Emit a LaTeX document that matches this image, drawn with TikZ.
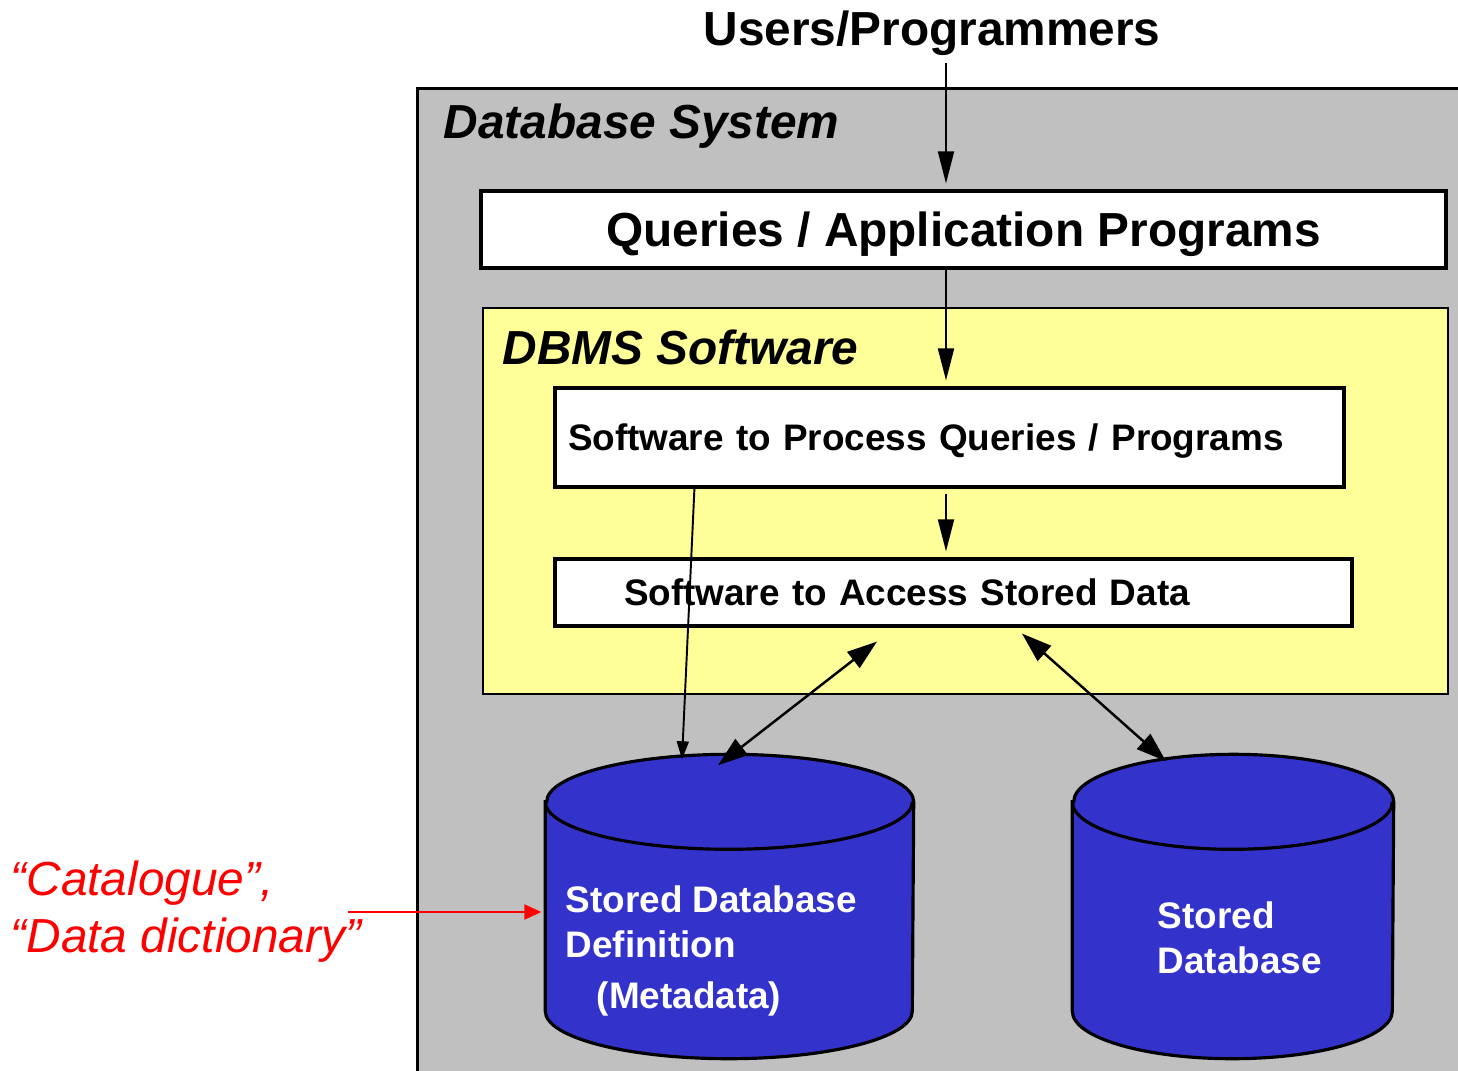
\documentclass[tikz,border=0pt]{standalone}
\usepackage{fontspec}
\setmainfont{Liberation Sans}
\usetikzlibrary{positioning,arrows.meta,calc}
\definecolor{sysgray}{RGB}{192,192,192}
\definecolor{dbmsyellow}{RGB}{255,255,153}
\definecolor{dbblue}{RGB}{51,51,204}
\definecolor{notered}{RGB}{255,0,0}

\begin{document}
\begin{tikzpicture}[
      panel/.style={draw=black, line width=0.8pt, inner sep=0pt},
      box/.style={draw=black, line width=0.9pt, fill=white, inner sep=0pt, text depth=0pt},
      big/.style={font=\fontsize{13.6}{16}\selectfont\bfseries},
      mid/.style={font=\fontsize{10.5}{12.8}\selectfont\bfseries},
      title/.style={font=\fontsize{13.6}{16}\selectfont\bfseries\itshape, anchor=base west, inner sep=0pt},
      dbframe/.style={minimum height=3.03cm, inner sep=0pt},
      dbshape/.style={draw=black, line width=0.9pt, fill=dbblue},
      dbtext/.style={mid, text=white, align=left, anchor=base west, inner sep=0pt},
      arrow/.style={-{Triangle[length=3.2mm, width=1.6mm]}, line width=0.55pt},
      link/.style={{Triangle[length=3mm, width=2mm]}-{Triangle[length=3mm, width=2mm]}, line width=0.7pt}
    ]
    \useasboundingbox (0,0) rectangle (14.58,10.70);

    % outer frame, cut off by the right and bottom edges
    \node[panel, fill=sysgray, anchor=north west, minimum width=10.5cm, minimum height=9.95cm] (sys) at (4.16,9.83) {};
    \node[title] (systitle) at (4.43,9.31) {Database System};
    \node[big, anchor=base, inner sep=0pt] (users) at (9.32,10.24) {Users/Programmers};

    \node[box, big, minimum width=9.65cm, minimum height=0.77cm] (qa) at (9.635,8.405) {Queries / Application Programs};

    % DBMS block
    \node[panel, fill=dbmsyellow, minimum width=9.65cm, minimum height=3.86cm] (dbms) at (9.655,5.69) {};
    \node[title] (dbmstitle) at (5.02,7.06) {DBMS Software};
    \node[box, mid, inner xsep=0.13cm, text width=7.63cm, align=left, minimum height=0.99cm] (proc) at (9.495,6.325)
      {Software to Process Queries / Programs};
    \node[box, mid, inner xsep=0.69cm, text width=6.59cm, align=left, minimum height=0.67cm] (access) at (9.535,4.775)
      {Software to Access Stored Data};

    % the two stores: frame nodes, then the drums drawn over them
    \node[dbframe, minimum width=3.67cm] (meta) at (7.295,1.635) {};
    \node[dbframe, minimum width=3.20cm] (store) at (12.33,1.635) {};
    \foreach \db/\rx in {meta/1.835, store/1.60} {
      \draw[dbshape] ([yshift=-0.475cm]\db.north west) -- ([yshift=0.475cm]\db.south west)
        arc[start angle=180, end angle=360, x radius=\rx cm, y radius=0.475cm]
        -- ([yshift=-0.475cm]\db.north east)
        arc[start angle=0, end angle=180, x radius=\rx cm, y radius=0.475cm] -- cycle;
      \draw[dbshape, fill=none] ([yshift=-0.475cm]\db.north west)
        arc[start angle=180, end angle=360, x radius=\rx cm, y radius=0.475cm];
    }
    \node[dbtext] (metatxt) at (5.65,0.62) {Stored Database\\Definition\\[0.06cm]\hspace*{0.31cm}(Metadata)};
    \node[dbtext] (storetxt) at (11.57,0.97) {Stored\\Database};

    \node[font=\fontsize{13.6}{16.2}\selectfont\itshape, text=notered, align=left, anchor=base west, inner sep=0pt] (catalog)
      at (0.10,1.18) {“Catalogue”,\\“Data dictionary”};
    \coordinate (catalogtip) at (3.48,1.58);

    % connectors
    \coordinate (spine) at (9.46,0);
    \draw[arrow, shorten <=0.06cm, shorten >=0.06cm] (users.south -| spine) -- (qa.north -| spine);
    \draw[arrow, shorten >=0.06cm] (qa.south -| spine) -- (proc.north -| spine);
    \draw[arrow, shorten <=0.05cm, shorten >=0.06cm] (proc.south -| spine) -- (access.north -| spine);
    \draw[-{Triangle[length=1.8mm, width=1.2mm]}, line width=0.55pt]
      ($(proc.south west)+(1.41,0)$) -- ($(meta.north)+(-0.475,-0.05)$);
    \draw[link] ($(access.south)+(-0.765,-0.14)$) -- ($(meta.north)+(-0.115,-0.11)$);
    \draw[link] ($(access.south)+(0.685,-0.06)$) -- ($(store.north)+(-0.67,-0.07)$);
    \draw[notered, line width=0.6pt, -{Triangle[length=1.7mm, width=1.5mm]}, shorten >=0.04cm]
      (catalogtip) -- (meta.west |- catalogtip);
  \end{tikzpicture}
\end{document}
